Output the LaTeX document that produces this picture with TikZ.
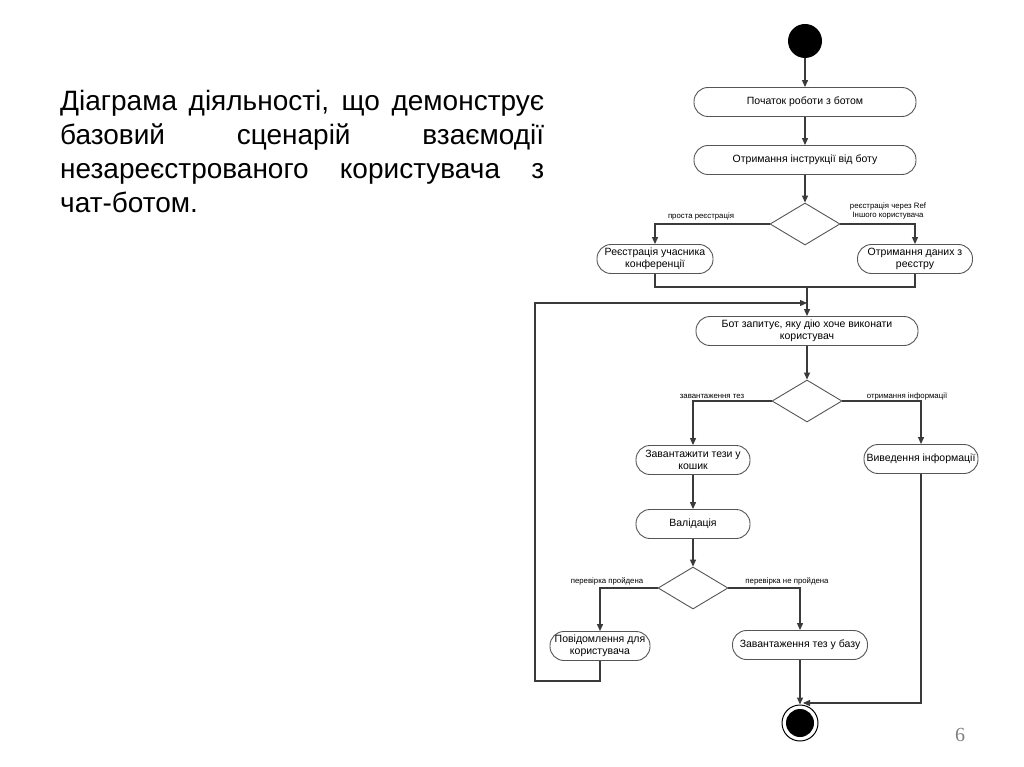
\documentclass[tikz,border=0pt]{standalone}
\usepackage{fontspec}
\setmainfont{Liberation Sans}
\newfontfamily\pagefont{Liberation Serif}
\usetikzlibrary{shapes.geometric,arrows.meta}
\definecolor{linec}{HTML}{3A3A3A}
\definecolor{boxc}{HTML}{555555}
\tikzset{
  act/.style={draw=boxc, line width=0.9pt, rounded corners=14pt, minimum height=29pt, inner sep=1pt, align=center, font=\fontsize{10.5}{12.5}\selectfont},
  dec/.style={draw=boxc, line width=0.9pt, diamond, minimum width=70pt, minimum height=42pt, inner sep=0pt},
  arr/.style={draw=linec, line width=1.2pt, -{Triangle[length=7pt,width=6pt]}},
  ln/.style={draw=linec, line width=1.2pt},
  lbl/.style={font=\fontsize{7.8}{9}\selectfont, inner sep=0pt, align=center},
}
\begin{document}
\begin{tikzpicture}[x=1pt,y=-1pt]
\useasboundingbox[fill=white] (0,0) rectangle (1024,767);
% title
\node[anchor=base west, inner sep=0pt, align=left, font=\fontsize{28}{34}\selectfont] (title) at (60,213)
 {\makebox[484pt][s]{Діаграма діяльності, що демонструє}\\
  \makebox[484pt][s]{базовий сценарій взаємодії}\\
  \makebox[484pt][s]{незареєстрованого користувача з}\\
  чат-ботом.};
% page number
\node[font=\pagefont\fontsize{20}{22}\selectfont, text=gray] (pg) at (960,735) {6};

% nodes
\node[circle, fill=black, minimum size=34pt, inner sep=0pt] (start) at (805,41) {};
\node[act, minimum width=222pt] (n1) at (805,102) {Початок роботи з ботом};
\node[act, minimum width=222pt] (n2) at (805,160) {Отримання інструкції від боту};
\node[dec] (d1) at (805,224) {};
\node[act, minimum width=116pt] (n3) at (655,259) {Реєстрація учасника\\конференції};
\node[act, minimum width=115pt] (n4) at (915,259) {Отримання даних з\\реєстру};
\coordinate (m) at (807,287);
\coordinate (lp) at (807,303);
\node[act, minimum width=222pt] (n5) at (807,331) {Бот запитує, яку дію хоче виконати\\користувач};
\node[dec] (d2) at (807,401) {};
\node[act, minimum width=114pt] (n6) at (693,460) {Завантажити тези у\\кошик};
\node[act, minimum width=114pt] (n7) at (921,459) {Виведення інформації};
\node[act, minimum width=114pt] (n8) at (693,524) {Валідація};
\node[dec] (d3) at (693,588) {};
\node[act, minimum width=100pt] (n9) at (600,646) {Повідомлення для\\користувача};
\node[act, minimum width=135pt] (n10) at (800,645) {Завантаження тез у базу};
\node[circle, draw=black, line width=1pt, fill=white, minimum size=36pt, inner sep=0pt] (endc) at (800,723) {};
\node[circle, fill=black, minimum size=28pt, inner sep=0pt] (endi) at (800,723) {};
\coordinate (cl1) at (535,681);
\coordinate (ein) at (803,703);

% connectors
\draw[arr] (start) -- (n1);
\draw[arr] (n1) -- (n2);
\draw[arr] (n2) -- (d1);
\draw[arr] (d1.west) -| (n3.north);
\draw[arr] (d1.east) -| (n4.north);
\draw[ln] (n3.south) |- (m);
\draw[ln] (n4.south) |- (m);
\draw[arr] (m) -- (n5.north);
\draw[arr] (n5) -- (d2);
\draw[arr] (d2.west) -| (n6.north);
\draw[arr] (d2.east) -| (n7.north);
\draw[arr] (n6) -- (n8);
\draw[arr] (n8) -- (d3);
\draw[arr] (d3.west) -| (n9.north);
\draw[arr] (d3.east) -| (n10.north);
\draw[arr] (n10.south) -- (endc.north);
\draw[arr] (n7.south) |- (ein);
\draw[arr] (n9.south) |- (cl1) |- (lp);

% labels
\node[lbl] (l1) at (701,216) {проста реєстрація};
\node[lbl] (l2) at (888,211) {реєстрація через Ref\\Іншого користувача};
\node[lbl] (l3) at (712,396) {завантаження тез};
\node[lbl] (l4) at (907,396) {отримання інформації};
\node[lbl] (l5) at (607,581) {перевірка пройдена};
\node[lbl] (l6) at (787,581) {перевірка не пройдена};
\end{tikzpicture}
\end{document}
